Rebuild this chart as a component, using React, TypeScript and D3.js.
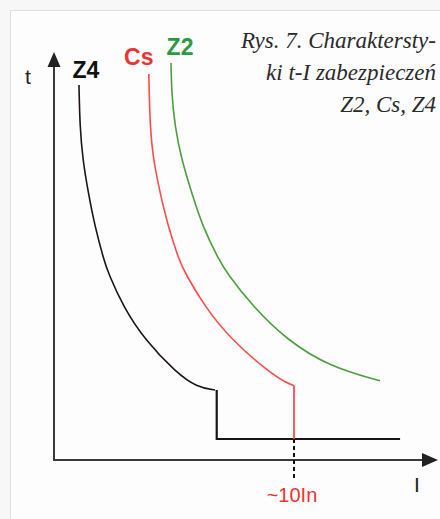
import React from 'react';
import * as d3 from 'd3';

// I in multiples of In, t in arbitrary time units
const z4Curve: [number, number][] = [
  [1.04, 93.75], [1.08, 83.25], [1.2, 75], [1.43, 66.75], [1.71, 58.25], [2.08, 50],
  [2.26, 46.75], [2.89, 38.25], [3.79, 30], [5.11, 21.75], [5.95, 18.25], [6.71, 17.5],
];
const csCurve: [number, number][] = [
  [3.95, 96.5], [4.0, 83.25], [4.14, 75], [4.42, 66.75], [4.76, 58.25], [5.21, 50],
  [5.46, 46.75], [6.29, 38.25], [7.4, 30], [9.0, 21.75], [9.7, 19.25], [10.0, 18.6],
];
const z2Curve: [number, number][] = [
  [4.875, 99.25], [4.9, 91.75], [5.04, 83.25], [5.32, 75], [5.74, 66.75], [6.2, 58.25],
  [6.875, 50], [7.2, 46.75], [8.3, 38.25], [9.7, 30], [11.5, 23.25], [13.58, 19.8],
];
const z4StepI = 6.78;
const csStepI = 10;
const instT = 5.25;
const instEndI = 14.42;
const markI = 10;
const titleLines = ['Rys. 7. Charaktersty-', 'ki t-I zabezpieczeń', 'Z2, Cs, Z4'];
const curveLabels = ['Z4', 'Cs', 'Z2'];

const x = d3.scaleLinear().domain([0, 16]).range([54, 438]);
const y = d3.scaleLinear().domain([0, 102]).range([460, 52]);

const line = d3.line<[number, number]>()
  .x(d => x(d[0]))
  .y(d => y(d[1]))
  .curve(d3.curveBasis);

const stepLine = d3.line<[number, number]>().x(d => x(d[0])).y(d => y(d[1]));

const sans = 'Liberation Sans, Arial, sans-serif';

export default function App() {
  const curves = [
    { pts: z4Curve, color: '#1c1418', label: curveLabels[0], labelColor: '#111', dx: 7, dy: -7 },
    { pts: csCurve, color: '#ff4b4b', label: curveLabels[1], labelColor: '#ec3434', dx: -10, dy: -9 },
    { pts: z2Curve, color: '#4c9e3e', label: curveLabels[2], labelColor: '#2c9a42', dx: 9, dy: -8 },
  ];
  const x0 = x(0), y0 = y(0), yTop = y(102), xEnd = x(16);

  return (
    <svg width={440} height={519} style={{ position: 'absolute', left: 0, top: 0 }}>
      <rect width={440} height={519} fill="#f7f7f7" />
      <rect x={10.5} y={10.5} width={440} height={520} fill="#fdfdfd" stroke="#dedede" />

      {/* axes */}
      <line x1={x0} y1={y0} x2={x0} y2={yTop + 12} stroke="#3a3a3a" strokeWidth={2} />
      <path d={`M${x0},${yTop} L${x0 - 6.5},${yTop + 15} L${x0 + 6.5},${yTop + 15} Z`} fill="#222" />
      <line x1={x0 - 1} y1={y0} x2={xEnd - 12} y2={y0} stroke="#3a3a3a" strokeWidth={2} />
      <path d={`M${xEnd},${y0} L${xEnd - 16},${y0 - 7} L${xEnd - 16},${y0 + 7} Z`} fill="#222" />

      {/* curves */}
      {curves.map(c => (
        <path key={c.label} d={line(c.pts) ?? ''} fill="none" stroke={c.color} strokeWidth={1.6} />
      ))}
      <path
        d={stepLine([[z4StepI, z4Curve[z4Curve.length - 1][1]], [z4StepI, instT], [instEndI, instT]]) ?? ''}
        fill="none" stroke="#1c1418" strokeWidth={2.2}
      />
      <path
        d={stepLine([[csStepI, csCurve[csCurve.length - 1][1]], [csStepI, instT]]) ?? ''}
        fill="none" stroke="#ff4b4b" strokeWidth={1.8}
      />
      <line x1={x(markI)} y1={y(instT)} x2={x(markI)} y2={y(-5)} stroke="#111" strokeWidth={2}
        strokeDasharray="4,3" />

      {/* labels */}
      {curves.map(c => (
        <text key={'l' + c.label} x={x(c.pts[0][0]) + c.dx} y={y(c.pts[0][1]) + c.dy} textAnchor="middle"
          fontFamily={sans} fontWeight="bold" fontSize={23} fill={c.labelColor}>{c.label}</text>
      ))}
      <text x={28} y={84} textAnchor="middle" fontFamily={sans} fontSize={21} fill="#222">t</text>
      <text x={417} y={492} textAnchor="middle" fontFamily={sans} fontSize={21} fill="#222">I</text>
      <text x={x(markI) - 2} y={502} textAnchor="middle" fontFamily={sans} fontSize={20} fill="#ec3434">~10In</text>

      {titleLines.map((t, i) => (
        <text key={t} x={436} y={48 + i * 32} textAnchor="end" fontFamily="Liberation Serif, serif"
          fontStyle="italic" fontSize={23} fill="#2a2a2a">{t}</text>
      ))}
    </svg>
  );
}
